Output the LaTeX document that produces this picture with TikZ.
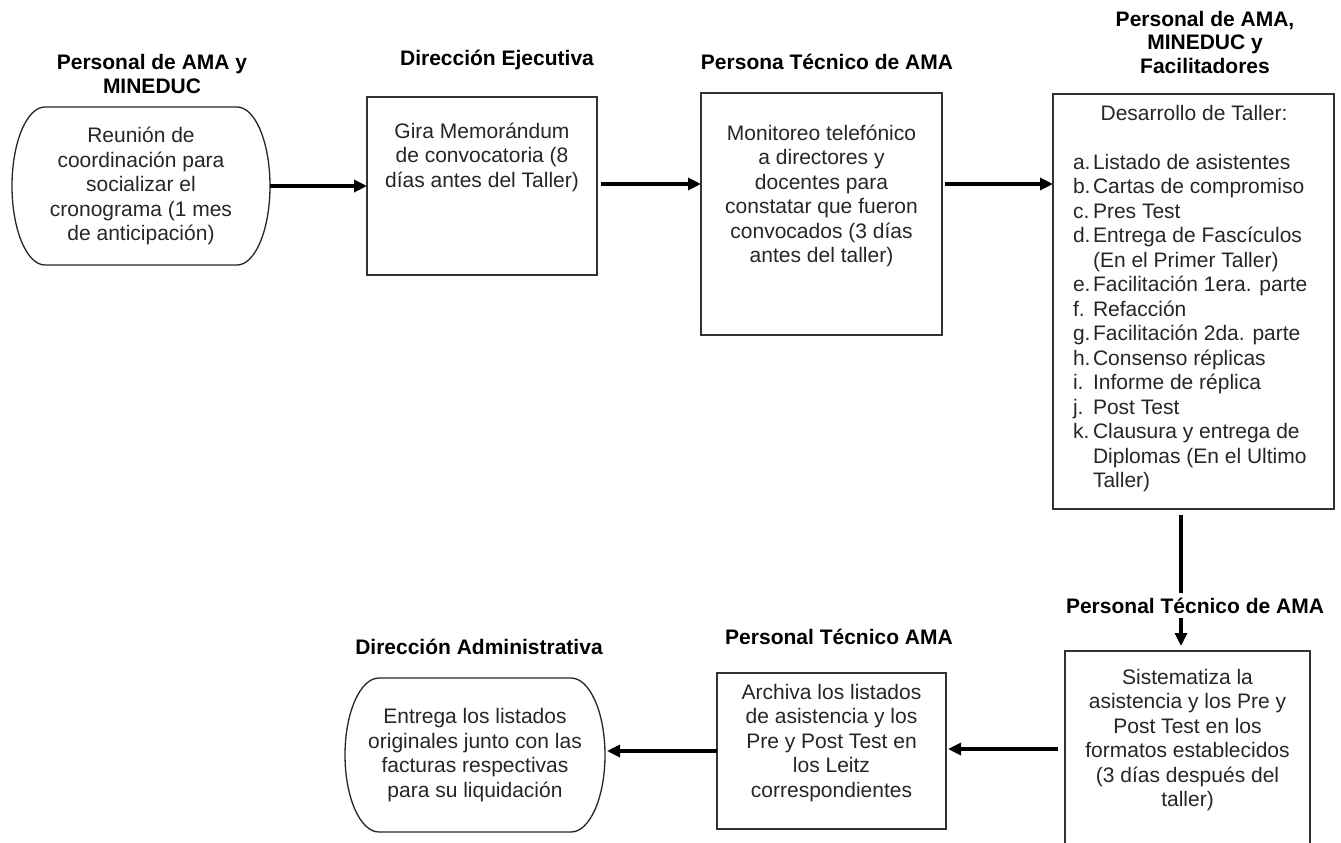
\documentclass[tikz,border=0pt]{standalone}
\usepackage{fontspec}
\setmainfont{Liberation Sans}
\usetikzlibrary{arrows.meta}
\newcommand\mybodyfnt{\fontsize{21}{24.5}\selectfont}
\newcommand\mylabfnt{\bfseries\fontsize{21}{23.5}\selectfont}
\newcommand\itm[1]{\makebox[20pt][l]{#1}}
\begin{document}
\begin{tikzpicture}[x=1pt,y=1pt,
  box/.style={draw=black!80, line width=1.3pt, inner sep=0pt, outer sep=0pt, rectangle},
  ghost/.style={inner sep=0pt, outer sep=0pt, rectangle, align=center, font=\mybodyfnt, text=black!85},
  body/.style={inner sep=0pt, outer sep=0pt, align=center, font=\mybodyfnt, text=black!85},
  lab/.style={inner sep=0pt, outer sep=0pt, align=center, font=\mylabfnt, text=black},
  arr/.style={line width=3.2pt, -{Triangle[length=13pt,width=12pt]}},
  plain/.style={line width=3.2pt},
  outline/.style={draw=black!85, line width=1.3pt}]
\clip (0,0) rectangle (1341,-843);
\fill[white] (0,0) rectangle (1341,-843);

% coordinates for connector rows / columns
\coordinate (row1) at (0,-184);
\coordinate (row2) at (0,-749);
\coordinate (col) at (1181,0);

% nodes
\node[ghost, minimum width=258pt, minimum height=158pt] (s1) at (141,-186)
  {Reunión de\\coordinación para\\socializar el\\cronograma (1 mes\\de anticipación)};
\draw[outline] ([xshift=33pt]s1.north west) -- ([xshift=-33pt]s1.north east)
  arc[start angle=90, end angle=-90, x radius=33pt, y radius=79pt]
  -- ([xshift=33pt]s1.south west)
  arc[start angle=270, end angle=90, x radius=33pt, y radius=79pt] -- cycle;

\node[box, minimum width=230pt, minimum height=178pt] (b2) at (482,-186) {};
\node[body, anchor=north] (t2) at (482,-120.85)
  {\strut Gira Memorándum\\de convocatoria (8\\días antes del Taller)};

\node[box, minimum width=241pt, minimum height=242pt] (b3) at (821.5,-214) {};
\node[body, anchor=north] (t3) at (821.5,-122.85)
  {\strut Monitoreo telefónico\\a directores y\\docentes para\\constatar que fueron\\convocados (3 días\\antes del taller)};

\node[box, minimum width=281pt, minimum height=415pt] (b4) at (1193.5,-301.5) {};
\node[body, align=left, anchor=north west] (t4) at (1073,-102.85)
  {\strut\makebox[242pt][c]{Desarrollo de Taller:}\\[24.5pt]
   \itm{a.}Listado de asistentes\\
   \itm{b.}Cartas de compromiso\\
   \itm{c.}Pres Test\\
   \itm{d.}Entrega de Fascículos\\
   \itm{}(En el Primer Taller)\\
   \itm{e.}Facilitación 1era. parte\\
   \itm{f.}Refacción\\
   \itm{g.}Facilitación 2da. parte\\
   \itm{h.}Consenso réplicas\\
   \itm{i.}Informe de réplica\\
   \itm{j.}Post Test\\
   \itm{k.}Clausura y entrega de\\
   \itm{}Diplomas (En el Ultimo\\
   \itm{}Taller)};

\node[box, minimum width=245pt, minimum height=229pt] (b5) at (1187.5,-765.5) {};
\node[body, anchor=north] (t5) at (1187.5,-666.85)
  {\strut Sistematiza la\\asistencia y los Pre y\\Post Test en los\\formatos establecidos\\(3 días después del\\taller)};

\node[box, minimum width=229pt, minimum height=156pt] (b6) at (831.5,-751) {};
\node[body, anchor=north] (t6) at (831.5,-681.85)
  {\strut Archiva los listados\\de asistencia y los\\Pre y Post Test en\\los Leitz\\correspondientes};

\node[ghost, minimum width=260pt, minimum height=154pt] (s7) at (475,-755)
  {Entrega los listados\\originales junto con las\\facturas respectivas\\para su liquidación};
\draw[outline] ([xshift=34pt]s7.north west) -- ([xshift=-34pt]s7.north east)
  arc[start angle=90, end angle=-90, x radius=34pt, y radius=77pt]
  -- ([xshift=34pt]s7.south west)
  arc[start angle=270, end angle=90, x radius=34pt, y radius=77pt] -- cycle;

% labels
\node[lab, anchor=north] (L1) at (152,-53.5) {\strut Personal de AMA y\\MINEDUC};
\node[lab, anchor=north] (L2) at (497,-49.5) {\strut Dirección Ejecutiva};
\node[lab, anchor=north] (L3) at (827,-53.5) {\strut Persona Técnico de AMA};
\node[lab, anchor=north] (L4) at (1205,-10) {\strut Personal de AMA,\\MINEDUC y\\Facilitadores};
\node[lab, anchor=north] (L5) at (1195,-597.5) {\strut Personal Técnico de AMA};
\node[lab, anchor=north] (L6) at (839,-628.5) {\strut Personal Técnico AMA};
\node[lab, anchor=north] (L7) at (479,-638.5) {\strut Dirección Administrativa};

% connectors
\draw[arr] (s1.east) -- (s1.east -| b2.west);
\draw[arr, shorten <=4pt] (b2.east |- row1) -- (b3.west |- row1);
\draw[arr, shorten <=3pt] (b3.east |- row1) -- (b4.west |- row1);
\draw[plain, shorten <=6pt, shorten >=4.5pt] (b4.south -| col) -- (L5.north -| col);
\draw[arr, shorten <=-3pt, shorten >=5pt] (L5.south -| col) -- (b5.north -| col);
\draw[arr, shorten <=7pt, shorten >=2pt] (b5.west |- row2) -- (b6.east |- row2);
\draw[arr, shorten >=2pt] (b6.west) -- (b6.west -| s7.east);
\end{tikzpicture}
\end{document}
